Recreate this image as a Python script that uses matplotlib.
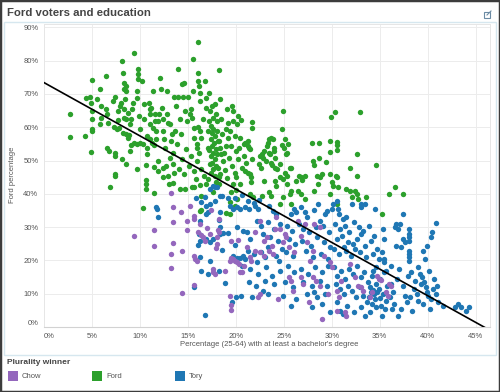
import numpy as np
import matplotlib
matplotlib.use("Agg")
import matplotlib.pyplot as plt
from matplotlib.patches import Rectangle
from matplotlib.lines import Line2D

plt.rcParams['font.family'] = ['Liberation Sans', 'DejaVu Sans']

# ---- data (percentages) ----
ford_pts = [
    [2.7,64.1],[2.7,57.2],[4.3,57.4],[4.4,68.9],[4.8,69.1],[5.0,74.3],[4.9,67.4],[5.0,64.9],[4.9,52.6],[5.0,62.4],
    [5.0,58.9],[5.0,59.6],[5.5,68.4],[5.8,71.4],[5.9,66.4],[5.9,62.9],[5.8,60.9],[6.5,75.4],[6.5,65.4],[6.6,63.9],
    [6.7,61.2],[6.6,53.9],[6.8,52.9],[7.2,67.9],[7.4,69.1],[7.4,51.4],[7.4,52.2],[7.4,45.9],[7.4,45.2],[7.7,64.9],
    [7.7,62.1],[7.8,59.9],[7.3,60.2],[7.6,59.6],[7.9,66.4],[8.0,67.4],[8.1,79.9],[8.2,76.2],[8.3,73.4],[8.3,71.4],
    [8.5,72.4],[8.5,70.9],[8.4,68.4],[8.3,65.4],[8.3,62.9],[8.2,58.4],[8.5,57.9],[8.9,57.6],[8.1,50.4],[8.5,49.1],
    [8.6,62.4],[8.8,64.4],[8.8,56.9],[9.0,60.9],[9.0,52.8],[9.1,54.6],[9.1,62.4],[9.2,65.4],[9.3,67.4],[9.4,82.2],
    [9.4,55.4],[9.7,70.9],[9.7,68.7],[9.7,55.0],[9.8,77.6],[9.8,75.9],[9.8,74.4],[9.9,63.4],[10.0,59.4],[10.0,55.4],
    [10.2,73.9],[10.3,54.9],[9.7,47.4],[10.4,67.1],[10.4,62.4],[10.7,51.9],[10.7,53.9],[10.6,48.8],[10.7,57.4],[10.6,44.1],
    [10.9,67.4],[11.0,65.4],[11.0,60.9],[11.0,56.6],[11.1,63.9],[11.2,65.9],[11.3,55.4],[11.4,59.9],[11.4,70.9],[11.5,48.1],
    [11.5,54.6],[11.6,63.9],[11.6,61.9],[11.7,56.4],[11.7,58.9],[11.9,61.9],[11.9,49.9],[12.0,63.9],[12.1,74.7],[12.2,71.4],
    [12.3,65.9],[12.4,62.4],[12.4,58.9],[12.5,56.4],[12.6,53.9],[12.4,47.9],[12.8,70.9],[12.8,63.9],[12.9,61.4],[13.1,60.9],
    [13.2,55.9],[13.3,57.9],[13.5,52.4],[13.5,48.9],[13.7,58.9],[13.6,69.1],[13.8,66.4],[14.0,77.6],[14.0,69.1],[14.2,62.4],
    [14.3,57.9],[14.4,72.9],[14.5,69.1],[14.6,73.4],[14.7,64.9],[14.9,61.9],[15.0,69.1],[15.2,63.9],[15.3,65.4],[15.4,62.9],
    [15.5,80.6],[15.5,70.9],[15.6,59.9],[15.6,56.9],[15.9,54.9],[15.9,53.9],[16.1,85.6],[16.1,76.4],[16.1,73.9],[16.2,72.4],
    [16.3,70.4],[16.3,67.9],[16.1,60.1],[16.3,58.9],[16.4,56.9],[16.6,62.4],[16.8,73.9],[16.9,68.9],[16.9,65.9],[17.1,58.9],
    [17.1,53.9],[17.2,61.9],[17.3,64.9],[17.6,62.9],[17.8,66.9],[18.0,61.9],[18.2,77.1],[18.2,55.9],[18.3,53.9],[18.5,51.9],
    [18.7,49.9],[19.0,54.4],[19.2,56.9],[19.4,58.9],[19.6,66.4],[19.7,64.9],[19.7,61.9],[19.9,57.4],[20.1,60.9],[20.3,53.9],
    [20.4,56.9],
    # dense column around 17-18 %
    [17.4,60.4],[17.6,59.4],[17.5,58.4],[17.8,57.4],[17.4,56.4],[17.7,55.4],[17.5,54.4],[17.9,53.4],[17.6,52.4],[17.4,51.4],
    [17.8,50.4],[17.5,49.4],[17.9,48.4],[17.6,47.4],[17.4,46.4],[17.8,45.4],[18.1,47.9],[18.0,51.9],[18.1,55.9],[17.2,53.1],
    [17.3,48.9],[18.2,44.9],[17.1,44.4],[17.9,43.4],[18.0,58.9],
    [14.1,47.4],[14.6,45.9],[15.1,48.4],[15.6,46.9],[16.0,49.9],[16.4,47.4],[14.4,50.4],[15.3,51.4],[16.7,45.4],[13.6,46.4],
    [12.9,45.4],[12.4,44.9],[13.1,50.9],[12.7,48.4],[11.9,46.9],[15.8,44.4],[16.2,52.4],[14.8,53.4],[13.9,54.9],
    [18.6,57.9],[19.0,59.4],[18.8,52.4],[19.3,50.9],[19.6,48.4],[19.9,46.4],[20.2,50.4],[20.6,47.9],[18.4,45.9],[19.1,44.6],
    [20.0,44.9],[20.8,51.4],[19.5,54.4],[20.0,52.9],[21.1,49.4],[18.9,47.1],[19.2,61.4],[18.5,62.4],[17.9,63.9],[17.5,66.4],
    [18.4,68.4],[17.2,70.4],[19.1,65.4],[20.2,63.4],[20.5,62.1],
    # below 44 %
    [6.9,42.1],[10.6,43.0],[10.6,41.4],[10.3,35.8],[11.5,40.1],[13.0,42.9],[13.5,43.1],[14.2,41.4],[14.7,41.4],[15.4,42.1],
    [15.6,42.1],[16.3,42.7],[16.4,39.4],[16.4,35.1],[16.3,34.9],[16.9,42.9],[17.6,40.4],[18.2,42.9],[19.0,34.1],[19.4,33.9],
    [19.7,42.9],[20.1,38.4],[19.9,36.4],[20.4,42.9],[19.4,37.4],[19.5,40.4],[20.0,41.1],
    [21.6,43.4],[22.9,43.9],[24.1,43.9],[24.2,42.4],[25.3,42.9],[25.6,39.9],[25.8,40.9],[26.3,43.9],[26.5,40.9],[26.8,39.9],
    [28.6,42.9],[30.0,43.4],[30.1,42.4],[30.7,41.9],[31.5,41.4],[31.9,40.9],[32.1,38.9],[32.4,40.9],[32.6,39.9],[32.7,38.4],
    [33.6,38.9],[35.2,33.9],[36.0,39.9],[36.6,41.9],[37.4,39.9],[21.5,39.9],[21.8,38.9],[22.7,39.4],[23.5,40.4],[23.7,39.4],
    [24.6,36.9],[24.9,38.9],[25.8,36.9],[27.2,38.4],[28.1,40.9],[29.8,39.9],[30.5,36.9],
    # right of 20 %, above 44 %
    [20.8,54.9],[21.0,55.4],[21.3,55.9],[21.3,54.4],[21.5,53.4],[21.4,53.9],[21.0,46.9],[21.3,46.4],[21.5,45.9],[21.6,44.9],
    [21.7,61.6],[21.7,59.7],[21.7,50.4],[22.5,51.4],[22.7,51.9],[22.8,50.9],[22.4,48.9],[22.6,47.9],[22.9,52.9],[23.1,49.9],
    [23.2,54.4],[23.4,55.4],[23.5,56.4],[23.7,56.7],[23.9,56.4],[23.5,52.4],[23.6,51.9],[23.7,49.4],[23.8,48.7],[24.0,53.9],
    [24.0,52.9],[24.1,50.9],[24.1,47.9],[24.3,47.4],[24.6,48.9],[24.6,44.9],[24.8,59.4],[24.9,64.9],[24.8,54.7],[25.0,53.9],
    [25.1,56.4],[25.2,51.9],[25.3,52.4],[25.4,54.9],[25.1,46.4],[25.3,45.4],[24.9,44.4],[25.7,47.9],[25.8,47.7],[26.6,45.4],
    [26.8,44.9],[26.9,44.2],[27.2,45.2],[27.9,55.4],[28.7,55.4],[28.0,49.9],[28.1,48.7],[28.7,50.9],[28.5,45.4],[28.8,44.9],
    [29.0,46.1],[29.4,49.7],[29.9,63.1],[30.3,64.7],[29.8,55.9],[30.5,55.7],[30.6,54.7],[29.8,52.7],[30.6,53.1],[29.8,45.9],
    [30.4,45.4],[30.5,44.9],[31.9,47.9],[32.6,52.1],[32.6,45.4],[32.9,64.6],[34.6,48.7],
]

tory_pts = [
    [15.8,38.7],[16.4,37.4],[16.9,36.4],[17.3,36.9],[17.8,37.9],[18.3,39.4],[19.2,38.7],[19.4,36.4],[19.7,35.4],[20.1,35.9],
    [20.4,35.4],[17.3,41.4],[17.8,41.9],[11.7,36.1],[11.8,35.4],[11.9,32.9],[16.3,31.9],[16.9,33.9],[17.1,34.4],[18.3,34.4],
    [18.2,32.1],[18.3,29.9],[18.7,28.1],[19.2,28.1],[20.1,29.9],[16.2,27.9],[16.3,25.9],[16.1,24.7],[16.9,26.4],[17.6,26.4],
    [18.3,27.9],[18.6,23.1],[19.9,24.7],[19.7,21.4],[20.1,20.7],[20.4,20.7],[16.3,20.9],[16.4,16.9],[17.3,19.9],[15.6,11.9],
    [17.1,15.9],[18.2,16.7],[18.9,13.1],[19.6,7.4],[20.0,9.1],[20.5,9.4],[16.8,3.7],[17.3,25.4],
    [18.0,42.1],[17.6,42.4],[16.8,38.9],[18.6,39.4],[19.9,38.6],[20.6,39.6],[21.3,37.9],[21.9,37.1],[22.4,38.1],
    [21.0,35.9],[21.4,35.4],[22.0,36.4],[22.3,35.4],[23.5,36.4],[23.9,34.9],[24.2,33.9],[21.2,28.4],[20.7,28.9],[22.2,31.9],
    [22.6,30.4],[23.4,31.4],[24.0,29.4],[24.6,30.9],[21.5,26.4],[22.8,27.9],[23.6,26.9],[24.4,25.9],[21.3,22.9],[21.9,21.9],
    [22.6,22.4],[23.4,23.9],[24.2,21.4],[24.8,23.4],[21.0,20.4],[22.2,19.4],[23.0,20.9],[24.5,19.9],[20.7,21.4],
    [25.8,33.9],[26.1,35.4],[26.3,34.4],[26.8,35.9],[27.2,34.4],[27.4,32.9],[28.2,35.0],[28.6,36.9],[28.8,31.9],[29.3,33.9],
    [29.5,34.9],[25.3,30.4],[25.9,28.9],[26.6,30.9],[27.0,29.4],[27.6,28.4],[28.4,29.9],[29.1,30.4],[29.7,28.4],[25.5,26.4],
    [26.2,24.9],[26.9,25.9],[27.8,24.4],[28.5,26.9],[29.2,25.4],[29.8,23.9],[25.2,22.4],[26.0,21.4],[27.3,22.9],[28.0,20.9],
    [28.9,21.9],[29.6,20.4],
    [30.0,35.4],[30.1,36.9],[30.5,37.9],[30.7,35.4],[30.8,33.9],[31.2,32.4],[31.5,32.9],[32.1,36.9],[33.0,36.9],[33.1,35.9],
    [33.5,36.9],[34.5,35.4],[30.3,30.9],[30.9,29.4],[31.4,30.4],[31.8,28.4],[32.3,31.4],[32.8,29.9],[33.3,28.9],[33.9,30.4],
    [34.4,27.4],[30.6,26.4],[31.1,27.4],[31.7,25.4],[32.2,24.9],[32.6,26.4],[33.0,27.9],[33.5,24.4],[34.1,25.9],[34.7,23.4],
    [30.2,23.4],[30.8,21.9],[31.5,22.9],[32.0,21.4],[32.9,22.4],[33.6,20.9],[34.3,21.9],[34.9,20.4],[31.3,24.1],[32.4,23.4],
    [37.4,33.9],[36.7,30.9],[36.6,29.9],[36.9,29.4],[37.1,30.9],[38.1,29.4],[38.1,27.9],[38.1,26.9],[38.1,25.9],[37.4,26.4],
    [37.6,25.4],[36.7,24.4],[37.2,23.9],[38.1,22.9],[38.1,21.9],[38.1,20.9],[38.1,19.9],[40.5,28.4],[40.4,26.9],[40.9,31.1],
    [39.9,24.4],[39.5,22.9],[39.7,20.4],[35.3,29.4],[35.4,26.4],[35.2,22.4],[35.4,20.4],[35.4,19.4],[35.7,16.9],[34.6,17.9],
    [34.3,16.9],[36.2,18.4],[37.0,17.4],[38.3,16.4],[38.0,15.4],[39.0,17.9],[40.1,16.9],
    [20.6,18.4],[21.5,17.4],[22.3,15.9],[23.1,17.9],[23.8,15.4],[24.6,16.9],[25.4,18.4],[26.1,16.4],[26.8,17.4],[27.5,15.9],
    [28.3,17.9],[29.0,16.4],[29.6,18.4],[21.4,13.4],[22.1,12.4],[23.0,13.9],[24.0,12.9],[25.1,13.4],[26.0,11.9],[27.0,13.4],
    [27.9,12.4],[28.8,13.9],[29.5,12.4],[21.7,8.9],[23.4,9.9],[24.9,9.4],[26.3,8.4],[27.4,9.9],[28.5,8.9],[29.3,9.9],
    [25.8,6.4],[27.9,5.9],[29.0,6.9],[29.8,4.4],[22.8,10.9],[28.1,10.4],
    [30.2,17.9],[30.6,15.4],[31.0,16.9],[31.4,14.4],[31.8,17.4],[32.2,15.9],[32.6,18.4],[33.0,14.9],[33.4,16.4],[33.8,13.4],
    [34.2,15.4],[34.6,12.9],[35.0,14.4],[35.4,16.4],[35.8,12.4],[30.4,12.9],[30.9,11.4],[31.3,9.9],[31.7,12.4],[32.1,10.9],
    [32.5,8.9],[32.9,11.9],[33.3,9.4],[33.7,7.4],[34.1,10.4],[34.5,8.4],[34.9,11.4],[35.3,9.9],[35.7,7.9],[34.0,12.1],
    [34.3,11.2],[34.4,9.9],[34.7,10.6],[33.9,8.9],[34.2,6.9],[34.6,5.9],[35.0,8.7],[35.1,6.4],[34.0,4.4],[35.6,5.4],
    [33.0,5.9],[31.6,6.4],[30.5,7.4],[30.9,4.9],[32.3,4.4],[33.5,3.4],[35.2,3.4],[36.2,12.9],[36.4,10.4],[36.1,8.9],
    [36.5,6.9],[36.3,5.4],[31.2,3.9],
    [36.8,14.4],[37.4,12.4],[37.6,9.4],[37.8,7.4],[38.2,8.9],[38.6,11.4],[38.9,9.9],[39.3,12.9],[39.4,14.9],[39.6,13.4],
    [39.8,11.9],[39.9,10.4],[40.0,9.4],[40.3,8.4],[40.6,11.4],[40.9,9.9],[41.1,7.4],[39.0,7.9],[39.5,6.9],[40.2,5.4],
    [37.2,5.4],[38.4,4.9],[41.0,12.4],[36.9,3.4],[43.2,6.9],[43.5,5.9],[44.3,5.9],[42.8,5.9],[44.0,4.9],[41.6,6.4],
    [38.7,13.9],[39.2,15.9],[40.7,14.4],
]

chow_pts = [
    [9.4,27.2],[11.5,29.2],[11.5,24.4],[13.2,40.2],[13.4,35.9],[13.4,31.4],[13.4,25.1],[13.2,21.9],[13.2,17.7],[14.3,34.6],
    [14.4,22.7],[14.4,10.3],[14.9,31.7],[14.9,29.1],[15.2,36.4],[15.6,33.4],[15.6,32.4],[15.6,21.4],[15.7,20.4],[15.6,12.7],
    [16.0,19.9],[16.1,28.4],[16.3,30.9],[16.4,27.7],[16.6,26.9],[16.8,25.9],[17.0,29.6],[17.3,27.9],[17.4,35.1],[17.6,17.3],
    [17.6,16.4],[17.8,15.9],[17.9,23.7],[18.1,29.1],[18.0,26.9],[18.0,24.9],[18.2,32.4],[18.2,28.4],[18.9,16.9],[19.5,25.9],
    [19.5,20.7],[19.4,19.9],[19.7,20.4],[19.9,19.9],[20.1,19.4],[20.2,26.1],[20.3,18.9],[20.4,16.4],[19.4,9.4],[19.5,6.6],
    [19.5,5.1],
    [22.5,31.9],[22.0,28.4],[22.9,25.9],[23.2,26.9],[22.0,22.9],[22.5,22.4],[22.9,21.4],[24.1,29.4],[24.6,29.4],[25.1,27.9],
    [25.2,26.9],[24.9,25.4],[25.5,23.9],[26.5,31.9],[27.2,30.9],[28.2,30.9],[28.8,29.9],[26.8,27.4],[28.0,22.9],[27.7,19.9],
    [27.4,25.4],[24.2,32.9],[23.5,22.9],[23.9,21.9],[21.5,20.9],[21.6,19.9],[20.6,16.4],[22.5,9.9],[22.3,8.9],[25.5,14.9],
    [25.8,13.9],[26.0,10.9],[26.8,14.9],[27.0,12.9],[28.0,14.9],[28.4,13.9],[28.8,12.4],[29.0,2.4],[29.8,19.4],[30.0,17.9],
    [30.5,10.9],[30.5,4.9],[31.4,4.4],[31.5,3.4],[30.8,8.9],[31.0,13.9],[32.7,12.4],[33.1,11.9],[33.3,10.9],[34.7,15.4],
    [34.9,14.4],[35.1,14.0],[36.0,12.9],[36.2,12.4],[35.9,9.4],[35.7,10.4],[34.2,10.4],[34.0,8.9],[20.9,18.4],[21.2,23.9],
    [23.8,24.4],[26.1,22.4],[29.2,21.4],[31.9,18.9],[32.4,14.9],[29.6,9.9],[27.6,7.4],[24.4,8.4],
]

# linear trend shown in the chart (Ford % vs degree %)
trend_slope = -1.6
trend_intercept = 73.4

x_ticks = [0, 5, 10, 15, 20, 25, 30, 35, 40, 45]
y_ticks = [0, 10, 20, 30, 40, 50, 60, 70, 80, 90]
winners = ['Chow', 'Ford', 'Tory']
colors = {'Chow': '#9467bd', 'Ford': '#2ca02c', 'Tory': '#1f77b4'}

W, H = 500, 392
def fx(px): return px / W
def fy(py): return 1 - py / H

fig = plt.figure(figsize=(W / 100, H / 100), dpi=100)
ax = fig.add_axes([fx(44), fy(327), fx(490) - fx(44), fy(24) - fy(327)])

ford = np.array(ford_pts)
tory = np.array(tory_pts)
chow = np.array(chow_pts)
ms = 15
ax.scatter(ford[:, 0], ford[:, 1], s=ms, color=colors['Ford'], linewidths=0, zorder=2)
ax.scatter(tory[:, 0], tory[:, 1], s=ms, color=colors['Tory'], linewidths=0, zorder=2)
ax.scatter(chow[:, 0], chow[:, 1], s=ms, color=colors['Chow'], linewidths=0, zorder=2)

tx = np.array([0, 50])
ax.plot(tx, trend_intercept + trend_slope * tx, color='black', lw=1.2, zorder=3)

ax.set_xlim(0, 46.5)
ax.set_ylim(0, 91)
ax.set_xticks(x_ticks)
ax.set_yticks(y_ticks)
ax.set_xticklabels([f'{t}%' for t in x_ticks])
ax.set_yticklabels([f'{t}%' for t in y_ticks])
ax.tick_params(length=0, labelsize=5.5, labelcolor='#555555', pad=4)
ax.get_yticklabels()[0].set_va('bottom')
ax.get_xticklabels()[0].set_ha('left')
ax.grid(True, color='#ececec', lw=0.7, zorder=0)
ax.set_axisbelow(True)
for s in ['top', 'left', 'right']:
    ax.spines[s].set_color('#e6e6e6')
    ax.spines[s].set_linewidth(0.7)
ax.spines['bottom'].set_color('#d2d2d2')
ax.spines['bottom'].set_linewidth(0.8)

# axis titles
fig.text(fx(269), fy(345), "Percentage (25-64) with at least a bachelor's degree",
         ha='center', va='center', fontsize=5.5, color='#555555')
fig.text(fx(13), fy(175), 'Ford percentage', rotation=90,
         ha='center', va='center', fontsize=5.5, color='#555555')

# title + container
fig.text(fx(7), fy(13), 'Ford voters and education', ha='left', va='center',
         fontsize=8.2, fontweight='bold', color='#444444')
fig.add_artist(Rectangle((fx(4), fy(355)), fx(496) - fx(4), fy(22) - fy(355),
                         transform=fig.transFigure, fill=False, ec='#d6e7ef', lw=1))
# little external-link icon
icon = '#6b8ba4'
fig.add_artist(Rectangle((fx(484), fy(18)), fx(6), fy(0) - fy(6), transform=fig.transFigure,
                         fill=False, ec=icon, lw=0.8))
fig.add_artist(Line2D([fx(487), fx(491)], [fy(15), fy(11)], transform=fig.transFigure, color=icon, lw=0.8))

# legend
fig.text(fx(7), fy(363), 'Plurality winner', ha='left', va='center',
         fontsize=6, fontweight='bold', color='#444444')
leg_x = {'Chow': 8, 'Ford': 92, 'Tory': 175}
for w in winners:
    fig.add_artist(Rectangle((fx(leg_x[w]), fy(381)), fx(10), fy(0) - fy(10),
                             transform=fig.transFigure, color=colors[w], lw=0))
    fig.text(fx(leg_x[w] + 14), fy(376), w, ha='left', va='center',
             fontsize=5.5, color='#555555')

# outer frame
fig.add_artist(Rectangle((0, 0), 1, 1, transform=fig.transFigure, fill=False,
                         ec='#3c3c3c', lw=2.5))

fig.savefig('out.png', dpi=100)
